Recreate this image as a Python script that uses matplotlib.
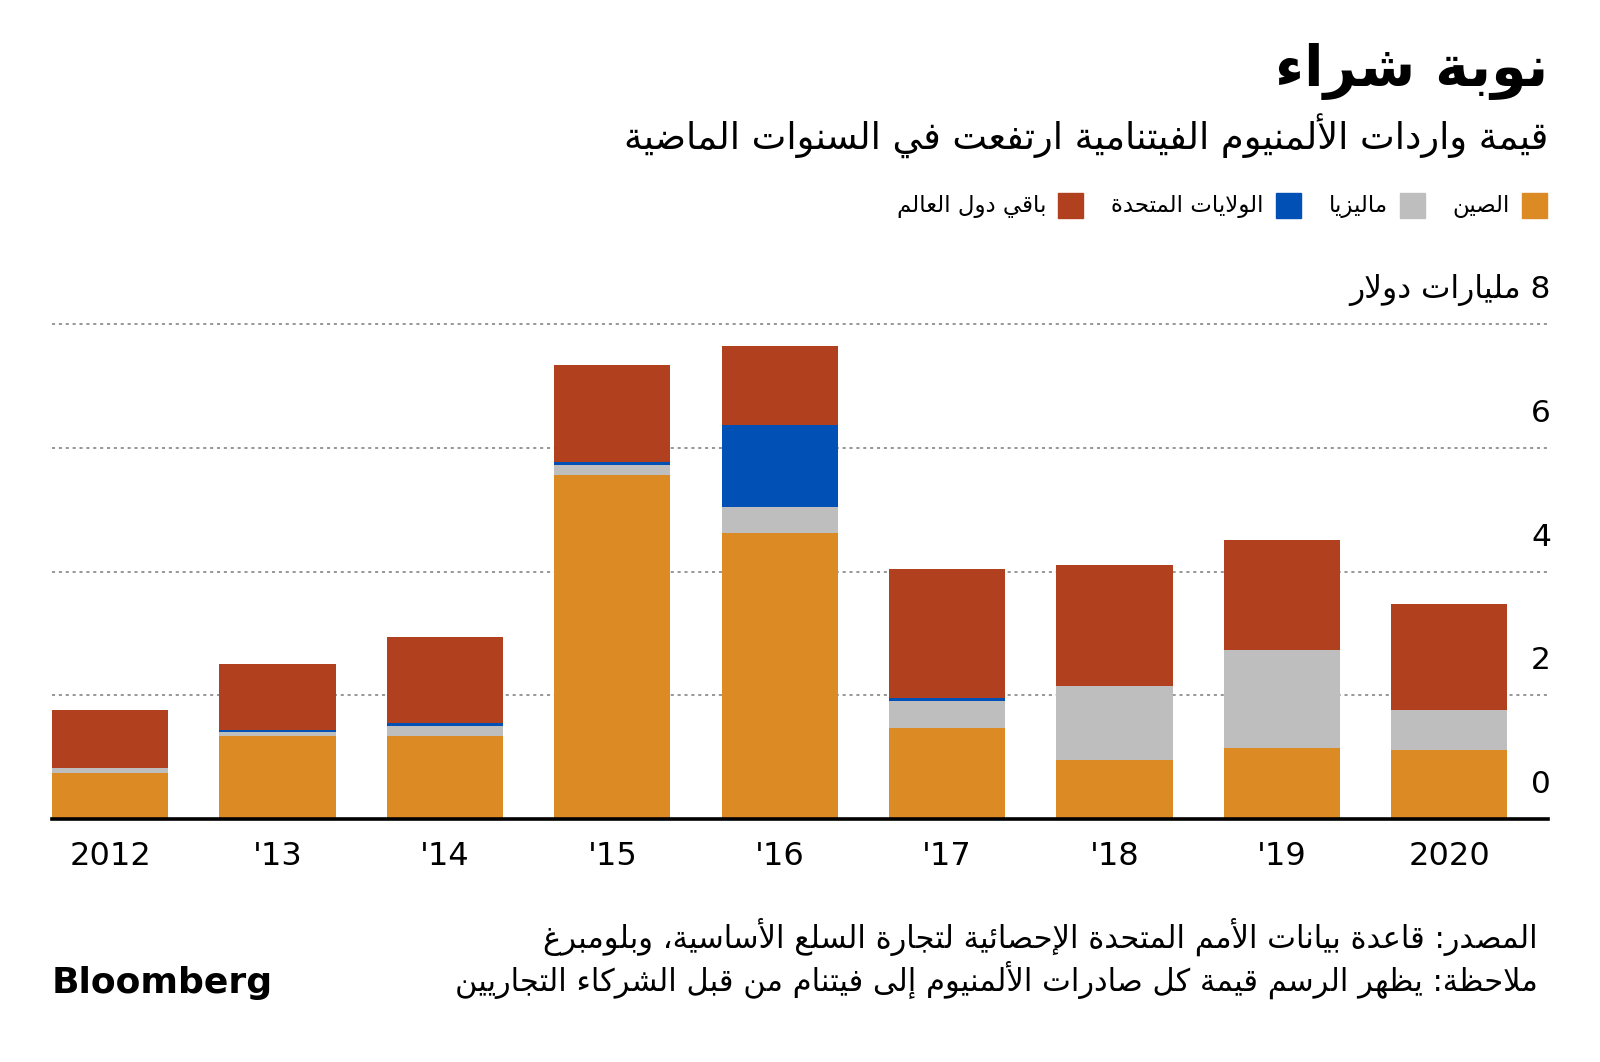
import re
import numpy as np
import matplotlib
matplotlib.use('Agg')
import matplotlib.pyplot as plt

# --- data (billions of USD) ---
years = ['2012', "'13", "'14", "'15", "'16", "'17", "'18", "'19", '2020']
china = [0.75, 1.34, 1.34, 5.57, 4.63, 1.48, 0.955, 1.15, 1.11]
malaysia = [0.08, 0.06, 0.17, 0.15, 0.42, 0.43, 1.20, 1.58, 0.66]
usa = [0.0, 0.04, 0.05, 0.06, 1.32, 0.05, 0.0, 0.0, 0.0]
rest = [0.93, 1.06, 1.39, 1.56, 1.29, 2.08, 1.96, 1.79, 1.71]
series_names = ['الصين', 'ماليزيا', 'الولايات المتحدة', 'باقي دول العالم']
colors = ['#DB8A24', '#BEBEBE', '#0050B5', '#B0401E']
yticks = [0, 2, 4, 6, 8]
unit = 'مليارات دولار'

title = 'نوبة شراء'
subtitle = 'قيمة واردات الألمنيوم الفيتنامية ارتفعت في السنوات الماضية'
source = 'المصدر: قاعدة بيانات الأمم المتحدة الإحصائية لتجارة السلع الأساسية، وبلومبرغ'
note = 'ملاحظة: يظهر الرسم قيمة كل صادرات الألمنيوم إلى فيتنام من قبل الشركاء التجاريين'

# --- minimal arabic shaping (presentation forms) + visual reordering ---
letters = 'ءآأؤإئابةتثجحخدذرزسشصضطظعغفقكلمنهوىي'
counts = [1, 2, 2, 2, 2, 4, 2, 4, 2, 4, 4, 4, 4, 4, 2, 2, 2, 2,
          4, 4, 4, 4, 4, 4, 4, 4, 4, 4, 4, 4, 4, 4, 4, 2, 2, 4]
FORMS = {}
c0 = 0xFE80
for ch, n in zip(letters, counts):
    FORMS[ch] = (c0, n)
    c0 += n
LAMALEF = {'آ': 0xFEF5, 'أ': 0xFEF7, 'إ': 0xFEF9, 'ا': 0xFEFB}


def ar(text):
    toks = []
    i = 0
    while i < len(text):
        if text[i] == 'ل' and i + 1 < len(text) and text[i + 1] in LAMALEF:
            toks.append(text[i:i + 2])
            i += 2
        else:
            toks.append(text[i])
            i += 1

    def nforms(t):
        if len(t) == 2:
            return 2
        return FORMS[t][1] if t in FORMS else 0

    out = []
    for k, t in enumerate(toks):
        prev = toks[k - 1] if k > 0 else ' '
        nxt = toks[k + 1] if k + 1 < len(toks) else ' '
        jp = nforms(t) >= 2 and nforms(prev) == 4
        jn = nforms(t) == 4 and nforms(nxt) >= 2
        if len(t) == 2:
            out.append(chr(LAMALEF[t[1]] + (1 if jp else 0)))
        elif t in FORMS:
            base = FORMS[t][0]
            if jp and jn:
                idx = 3
            elif jp:
                idx = 1
            elif jn:
                idx = 2
            else:
                idx = 0
            out.append(chr(base + idx))
        else:
            out.append(t)
    s = ''.join(out)[::-1]
    return re.sub(r"[0-9A-Za-z.']+", lambda m: m.group(0)[::-1], s)


plt.rcParams['font.family'] = ['DejaVu Sans']

W, H = 1600, 1062
fig = plt.figure(figsize=(16, 10.62), dpi=100)


def fx(x):
    return x / W


def fy(y):
    return 1 - y / H


ax = fig.add_axes([fx(52), fy(819), fx(1548) - fx(52), fy(324.5) - fy(819)])
x = np.arange(len(years))
bottom = np.zeros(len(years))
for vals, col in zip([china, malaysia, usa, rest], colors):
    ax.bar(x, vals, bottom=bottom, width=0.695, color=col, linewidth=0, zorder=3)
    bottom += np.array(vals)

for v in yticks[1:]:
    ax.axhline(v, color='#7a7a7a', lw=1.1, ls=(0, (2, 2.5)), zorder=1, clip_on=False)
ax.axhline(0, color='black', lw=2.6, zorder=4, clip_on=False)

ax.set_xlim(-0.3475, 8.59)
ax.set_ylim(0, 8)
for s in ax.spines.values():
    s.set_visible(False)
ax.set_yticks([])
ax.set_xticks(x)
ax.set_xticklabels(years, fontsize=23)
ax.tick_params(axis='x', length=0, pad=16)

for v in yticks:
    lab = str(v)
    if v == yticks[-1]:
        lab = ar(str(v) + ' ' + unit)
    ax.text(1.002, v + 0.56, lab, transform=ax.get_yaxis_transform(),
            ha='right', va='center', fontsize=22.5)

# titles
fig.text(fx(1548), fy(71), ar(title), ha='right', va='center',
         fontsize=41, fontweight='bold')
fig.text(fx(1548), fy(136), ar(subtitle), ha='right', va='center', fontsize=26.5)

# legend, laid out right to left
renderer = fig.canvas.get_renderer()
cursor = 1547
for name, col in zip(series_names, colors):
    fig.patches.append(plt.Rectangle((fx(cursor - 25), fy(218)), fx(25), 25 / H,
                                     transform=fig.transFigure, color=col))
    t = fig.text(fx(cursor - 37), fy(206), ar(name), ha='right', va='center',
                 fontsize=16.5)
    w = t.get_window_extent(renderer).width
    cursor = cursor - 37 - w - 28

# footer
fig.text(fx(1538), fy(937), ar(source), ha='right', va='center', fontsize=22)
fig.text(fx(1538), fy(980), ar(note), ha='right', va='center', fontsize=22)
fig.text(fx(52), fy(983), 'Bloomberg', ha='left', va='center',
         fontsize=26, fontweight='bold')

fig.savefig('out.png', dpi=100)
